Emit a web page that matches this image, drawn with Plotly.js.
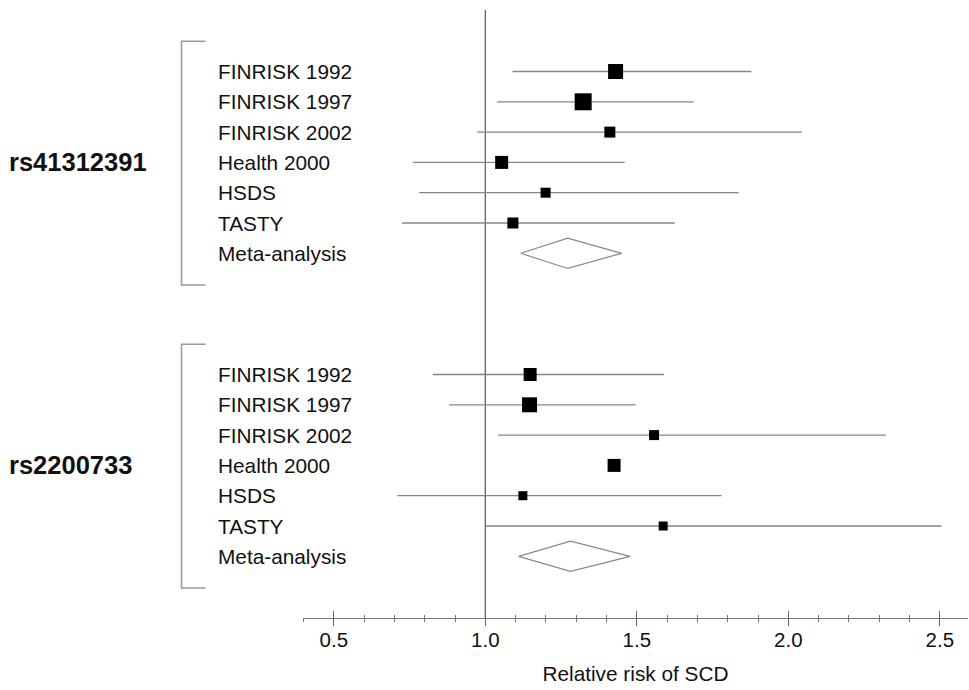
<!DOCTYPE html>
<html>
<head>
<meta charset="utf-8">
<script src="https://cdn.plot.ly/plotly-3.0.1.min.js"></script>
<style>html,body{margin:0;padding:0;background:#fff;}#chart{width:969px;height:690px;}</style>
</head>
<body>
<div id="chart"></div>
<script>
// ---- data ----
const studies = ['FINRISK 1992', 'FINRISK 1997', 'FINRISK 2002', 'Health 2000', 'HSDS', 'TASTY'];
const metaLabel = 'Meta-analysis';
const snps = ['rs41312391', 'rs2200733'];

// rs41312391
const rr1 = [1.430, 1.323, 1.411, 1.054, 1.199, 1.091];
const lo1 = [1.090, 1.039, 0.973, 0.761, 0.782, 0.725];
const hi1 = [1.878, 1.688, 2.045, 1.460, 1.836, 1.625];
const weight1 = [15, 17, 11, 13, 10, 11];
const meta1 = {lo: 1.117, rr: 1.272, hi: 1.450};

// rs2200733
const rr2 = [1.148, 1.146, 1.557, 1.425, 1.124, 1.587];
const lo2 = [0.827, 0.880, 1.042, null, 0.709, 1.000];
const hi2 = [1.590, 1.496, 2.322, null, 1.780, 2.506];
const weight2 = [13, 15, 10, 13, 9, 9];
const meta2 = {lo: 1.110, rr: 1.281, hi: 1.478};

const xTicks = [0.5, 1.0, 1.5, 2.0, 2.5];
const xTitle = 'Relative risk of SCD';
const refValue = 1.0;

// ---- layout helpers ----
const FONT = '"Liberation Sans", Arial, Helvetica, sans-serif';
const TXT = '#111';
const ciColor = '#858585';
const groupStart = [0, 10];           // row index of first study in each group
const rowsOf = (g) => studies.map((_, i) => groupStart[g] + i);
const metaRow = (g) => groupStart[g] + studies.length;

function studyTrace(g, rr, lo, hi, w) {
  const plus = rr.map((v, i) => (hi[i] == null ? null : hi[i] - v));
  const minus = rr.map((v, i) => (lo[i] == null ? null : v - lo[i]));
  return {
    type: 'scatter', mode: 'markers',
    x: rr, y: rowsOf(g),
    marker: {symbol: 'square', color: '#000', size: w, opacity: 1, line: {width: 0}},
    error_x: {type: 'data', symmetric: false, array: plus, arrayminus: minus,
              width: 0, thickness: 1.3, color: ciColor},
    hoverinfo: 'x', showlegend: false, cliponaxis: false
  };
}
function diamondTrace(g, m) {
  const r = metaRow(g);
  return {
    type: 'scatter', mode: 'lines',
    x: [m.lo, m.rr, m.hi, m.rr, m.lo],
    y: [r, r - 0.5, r, r + 0.5, r],
    fill: 'toself', fillcolor: '#fff',
    line: {color: '#888', width: 1.2},
    hoverinfo: 'skip', showlegend: false
  };
}

const traces = [
  studyTrace(0, rr1, lo1, hi1, weight1),
  studyTrace(1, rr2, lo2, hi2, weight2),
  diamondTrace(0, meta1),
  diamondTrace(1, meta2)
];

const plotL = 303, plotR = 968, plotW = plotR - plotL;
const px2paper = (px) => (px - plotL) / plotW;

const annotations = [];
const shapes = [];
[0, 1].forEach((g) => {
  studies.concat([metaLabel]).forEach((s, i) => {
    annotations.push({
      text: s, xref: 'paper', yref: 'y', x: px2paper(216), y: groupStart[g] + i,
      xanchor: 'left', yanchor: 'middle', showarrow: false,
      font: {family: FONT, size: 20.8, color: TXT}
    });
  });
  annotations.push({
    text: '<b>' + snps[g] + '</b>', xref: 'paper', yref: 'y', x: px2paper(7),
    y: groupStart[g] + 3, xanchor: 'left', yanchor: 'middle', showarrow: false,
    font: {family: FONT, size: 25.5, color: TXT}
  });
  const yt = groupStart[g] - 1, yb = metaRow(g) + 1.05;
  const xa = px2paper(181.5), xb = px2paper(205.5);
  shapes.push({
    type: 'path', xref: 'paper', yref: 'y',
    path: `M ${xb},${yt} L ${xa},${yt} L ${xa},${yb} L ${xb},${yb}`,
    line: {color: '#999', width: 1.5}
  });
});
shapes.push({
  type: 'line', xref: 'x', yref: 'paper', x0: refValue, x1: refValue, y0: 0, y1: 1,
  line: {color: '#555', width: 1.2}, layer: 'below'
});

const xRange = [1 - (485.3 - plotL) / 303, 1 + (plotR - 485.3) / 303];
const row0 = 71.5, rowH = 30.3;

const layout = {
  width: 969, height: 690,
  margin: {l: plotL, r: 969 - plotR, t: 10, b: 72},
  paper_bgcolor: '#fff', plot_bgcolor: '#fff',
  font: {family: FONT, color: TXT},
  showlegend: false,
  xaxis: {
    range: xRange, tickvals: xTicks, ticktext: xTicks.map(v => v.toFixed(1)),
    ticks: 'inside', ticklen: 7, tickwidth: 1.2, tickcolor: '#666',
    minor: {dtick: 0.1, tick0: 0, ticks: 'inside', ticklen: 3, tickwidth: 1, tickcolor: '#777'},
    ticklabelstandoff: 3,
    showline: true, linecolor: '#777', linewidth: 1.2,
    showgrid: false, zeroline: false,
    tickfont: {family: FONT, size: 20.5, color: TXT},
    title: {text: xTitle, font: {family: FONT, size: 20.8, color: TXT}, standoff: 16},
    fixedrange: true
  },
  xaxis2: {
    overlaying: 'x', matches: 'x', anchor: 'y', side: 'bottom',
    tickvals: xTicks, showticklabels: false,
    ticks: 'outside', ticklen: 7, tickwidth: 1.2, tickcolor: '#666',
    minor: {dtick: 0.1, tick0: 0, ticks: 'outside', ticklen: 3, tickwidth: 1, tickcolor: '#777'},
    showline: false, showgrid: false, zeroline: false
  },
  yaxis: {
    range: [(618 - row0) / rowH, (10 - row0) / rowH],
    showticklabels: false, showgrid: false, zeroline: false, showline: false, ticks: '',
    fixedrange: true
  },
  annotations: annotations,
  shapes: shapes
};

traces.push({type: 'scatter', x: [refValue], y: [null], xaxis: 'x2', yaxis: 'y',
             mode: 'markers', hoverinfo: 'skip', showlegend: false});

Plotly.newPlot('chart', traces, layout, {displayModeBar: false, staticPlot: true});
</script>
</body>
</html>
